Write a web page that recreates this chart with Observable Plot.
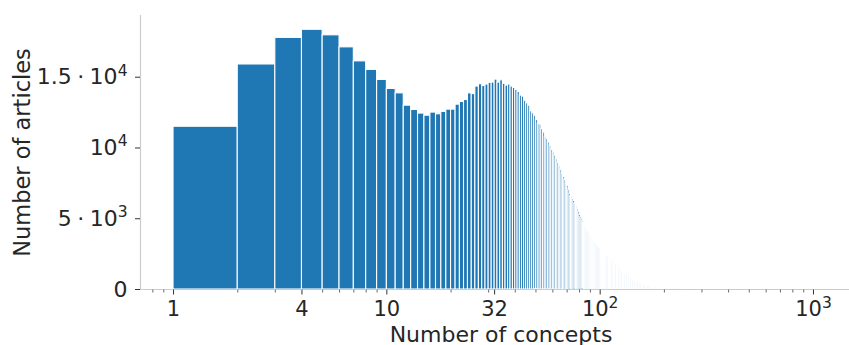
<!DOCTYPE html>
<html>
<head>
<meta charset="utf-8">
<script src="https://cdn.jsdelivr.net/npm/d3@7"></script>
<script src="https://cdn.jsdelivr.net/npm/@observablehq/plot@0.6"></script>
<style>
  html, body { margin: 0; padding: 0; background: #fff; }
  #chart { width: 849px; height: 345px; }
  svg { font-family: "DejaVu Sans", sans-serif; }
</style>
</head>
<body>
<div id="chart"></div>
<script>
// Number of articles per number of concepts (bin [n, n+1))
const counts = [
  11500, 15900, 17780, 18350, 17960, 17110, 16120, 15520, 14810, 14170,
  13860, 12990, 12690, 12430, 12280, 12500, 12380, 12550, 12710, 12710,
  13060, 13250, 13390, 13860, 13810, 14340, 14500, 14380, 14480, 14600,
  14620, 14830, 14620, 14780, 14530, 14410, 14480, 14340, 14240, 14100,
  13960, 13700, 13630, 13340, 13150, 12990, 12590, 12450, 12280, 11980,
  11700, 11650, 11340, 11100, 10750, 10640, 10400, 10160, 9860, 9690,
  9460, 9220, 8910, 8750, 8450, 8200, 7950, 7700, 7450, 7300,
  7000, 6750, 6550, 6400, 6250, 6050, 5850, 5650, 5450, 5250,
  5090, 4950, 4800, 4650, 4450, 4300, 4150, 4050, 3950, 3800,
  3700, 3580, 3480, 3380, 3280, 3180, 3100, 3020, 2940, 2860,
  2790, 2720, 2650, 2580, 2510, 2450, 2400, 2330, 2250, 2150,
  2050, 2000, 1960, 1920, 1880, 1840, 1790, 1750, 1710, 1680,
  1620, 1560, 1500, 1440, 1380, 1320, 1260, 1200, 1150, 1110,
  1080, 1050, 1020, 1000, 950, 900, 850, 800, 750, 730,
  710, 690, 670, 650, 620, 590, 560, 530, 500, 495,
  480, 460, 440, 420, 390, 360, 330, 300, 280, 260,
  250, 240, 230, 220, 210, 200, 190, 180, 170, 160,
  150, 140, 135, 130, 125, 120, 115, 110, 105, 100,
  96, 92, 88, 84, 80, 77, 74, 71, 68, 65,
  63, 61, 59, 57, 55, 54, 53, 52, 51, 50,
  48, 46, 44, 43, 42, 40, 39, 38, 37, 36,
  35, 34, 33, 32, 31, 30, 29, 28, 27, 26,
  25, 24, 23, 22, 21, 20, 19, 18, 17, 16,
  15, 15, 14, 14, 13, 13, 12, 12, 11, 11,
  10, 10, 9, 9, 8, 8, 7, 7, 6, 5
];
const bins = counts.map((c, i) => ({lo: i + 1, hi: i + 2, count: c}));

const xMajorTicks = [1, 4, 10, 32, 100, 1000];
const xMajorLabels = ["1", "4", "10", "32", "10^2", "10^3"];
const xMinorTicks = [0.8, 0.9, 2, 3, 5, 6, 7, 8, 9, 20, 30, 40, 50, 60, 70, 80, 90,
  200, 300, 400, 500, 600, 700, 800, 900];
const yTicks = [0, 5000, 10000, 15000];
const yLabels = ["0", "5\u2005·\u200510^3", "10^4", "1.5\u2005·\u200510^4"];

const textColor = "#262626";
const spineColor = "#cccccc";

const plot = Plot.plot({
  width: 849,
  height: 345,
  marginLeft: 140,
  marginRight: 0,
  marginTop: 15,
  marginBottom: 56,
  style: {fontFamily: "DejaVu Sans", color: textColor, background: "white", overflow: "visible"},
  x: {type: "log", domain: [0.7, 1475], axis: null},
  y: {domain: [0, 19360], axis: null},
  marks: [
    Plot.rectY(bins, {x1: "lo", x2: "hi", y: "count", fill: "#1f77b4", stroke: "white", strokeWidth: 1.1}),
    Plot.ruleY([0], {stroke: spineColor, strokeWidth: 1.2}),
    Plot.ruleX([0.7], {stroke: spineColor, strokeWidth: 1.2}),
    // minor x ticks
    Plot.ruleX(xMinorTicks, {x: (d) => d, y1: 0, y2: 0, insetTop: 0.6, insetBottom: -3.5, stroke: "#444", strokeWidth: 0.8}),
    // major x ticks
    Plot.ruleX(xMajorTicks, {x: (d) => d, y1: 0, y2: 0, insetTop: 0.6, insetBottom: -5.5, stroke: "#333", strokeWidth: 1}),
    // major x tick labels
    Plot.text(xMajorTicks, {x: (d) => d, text: (d, i) => xMajorLabels[i], frameAnchor: "bottom",
      lineAnchor: "top", dy: 12, fontSize: 21, fill: textColor}),
    Plot.axisY({ticks: yTicks, tickSize: 5, tickPadding: 8, fontSize: 22, label: null,
      tickFormat: (d) => yLabels[yTicks.indexOf(d)], stroke: "#333", strokeWidth: 1, fill: textColor}),
    Plot.text(["Number of concepts"], {frameAnchor: "bottom", lineAnchor: "bottom", dx: 6, dy: 52,
      fontSize: 22, fill: textColor}),
    Plot.text(["Number of articles"], {frameAnchor: "left", textAnchor: "middle", dx: -118, rotate: -90,
      fontSize: 22.5, fill: textColor})
  ]
});

// Render "a^b" tick labels with real superscripts
d3.select(plot).selectAll("text").each(function () {
  const t = this.textContent;
  if (t.includes("^")) {
    const [base, exp] = t.split("^");
    const sel = d3.select(this);
    sel.text(null);
    sel.append("tspan").text(base);
    sel.append("tspan").attr("dy", "-0.55em").attr("font-size", "15.5px").text(exp);
  }
});

document.getElementById("chart").appendChild(plot);
</script>
</body>
</html>
